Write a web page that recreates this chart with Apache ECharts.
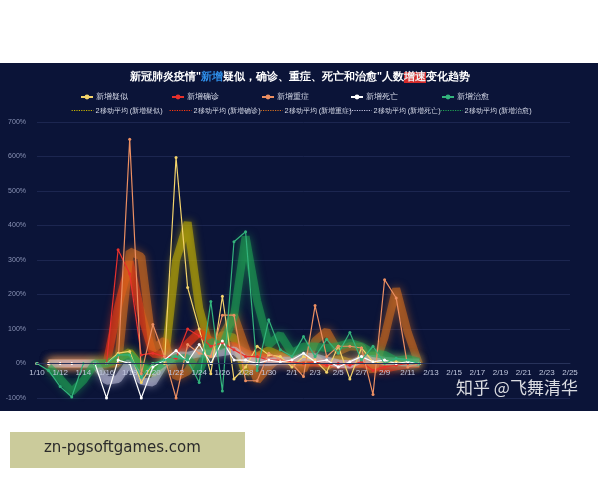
<!DOCTYPE html>
<html><head><meta charset="utf-8">
<script src="https://cdn.jsdelivr.net/npm/echarts@6/dist/echarts.min.js"></script>
<style>html,body{margin:0;padding:0;background:#fff}#c{width:600px;height:480px}</style>
</head><body><div id="c"></div>
<script>
const categories = ['1/10','1/11','1/12','1/13','1/14','1/15','1/16','1/17','1/18','1/19','1/20','1/21','1/22','1/23','1/24','1/25','1/26','1/27','1/28','1/29','1/30','1/31','2/1','2/2','2/3','2/4','2/5','2/6','2/7','2/8','2/9','2/10','2/11','2/12','2/13','2/14','2/15','2/16','2/17','2/18','2/19','2/20','2/21','2/22','2/23','2/24','2/25'];
const yTicks = [-100,0,100,200,300,400,500,600,700];
const names = ['新增疑似','新增确诊','新增重症','新增死亡','新增治愈'];
const maNames = ['2移动平均 (新增疑似)','2移动平均 (新增确诊)','2移动平均 (新增重症)','2移动平均 (新增死亡)','2移动平均 (新增治愈)'];
const suspected = [0,0,0,0,0,0,0,30,35,-55,0,0,597,220,100,-30,195,-45,-10,50,25,20,-10,20,10,-25,50,-45,45,5,0,5,0,0];
const confirmed = [0,0,0,0,0,0,0,330,260,25,30,20,15,100,80,50,60,40,20,20,10,10,5,0,5,-5,0,-5,5,-20,-10,-5,0,0];
const severe = [0,0,0,0,0,0,0,0,650,-30,113,20,-100,55,30,20,140,140,-50,-50,30,10,0,-38,168,20,50,50,45,-90,243,190,-10,0];
const deaths = [0,0,0,0,0,0,-100,10,0,-100,-10,10,38,5,55,0,65,10,10,0,10,5,10,30,5,10,-10,5,20,5,10,0,5,0];
const cured = [0,-20,-67,-97,0,0,0,25,25,-40,0,10,20,10,-55,180,-80,353,382,-20,127,40,20,78,20,70,30,90,10,50,0,15,10,0];
const maSuspected = [null,0,0,0,0,0,0,15,33,-10,-28,0,299,409,160,35,83,75,-28,20,38,23,5,5,15,-8,13,3,0,25,3,3,3,0];
const maConfirmed = [null,0,0,0,0,0,0,165,295,143,28,25,18,58,90,65,55,50,30,20,15,10,8,3,3,0,-3,-3,0,-8,-15,-8,-3,0];
const maSevere = [null,0,0,0,0,0,0,0,325,310,42,67,-40,-23,43,25,80,140,45,-50,-10,20,5,-19,65,94,35,50,48,-23,77,217,90,-5];
const maDeaths = [null,0,0,0,0,0,-50,-45,5,-50,-55,0,24,22,30,28,33,38,10,5,5,8,8,20,18,8,0,-3,13,13,8,5,3,3];
const maCured = [null,-10,-44,-82,-49,0,0,13,25,-8,-20,5,15,15,-23,63,50,137,368,181,54,84,30,49,49,45,50,60,50,30,25,8,13,5];

const raw = [suspected, confirmed, severe, deaths, cured];
const ma = [maSuspected, maConfirmed, maSevere, maDeaths, maCured];
const colors = ['#f3d36b','#e8302c','#ec8f62','#ffffff','#33b37c'];
const maColors = ['#c9b400','#ff3a10','#d8701e','#c4c4e0','#1fa553'];
const legendX = [75, 166, 256, 345, 436];
const legend2X = [66, 164, 255, 344, 435];

const series = [];
ma.forEach((d, i) => series.push({
  name: maNames[i], type: 'line', data: d, symbol: 'none', z: 1,
  lineStyle: {color: maColors[i], width: 8, opacity: 0.55, shadowBlur: 9, shadowColor: maColors[i]},
  itemStyle: {color: maColors[i]}
}));
raw.forEach((d, i) => series.push({
  name: names[i], type: 'line', data: d, symbol: 'circle', symbolSize: 3, z: 3,
  lineStyle: {color: colors[i], width: 1.2}, itemStyle: {color: colors[i]}
}));

const legends = [];
names.forEach((n, i) => legends.push({
  left: legendX[i], top: 88, itemWidth: 12, itemHeight: 6, itemGap: 4,
  data: [{name: n}], textStyle: {color: '#d8dcea', fontSize: 8, padding: [0,0,0,-2]}
}));
maNames.forEach((n, i) => legends.push({
  left: legend2X[i], top: 102, itemWidth: 22, itemHeight: 6,
  data: [{name: n, itemStyle: {opacity: 0}, lineStyle: {width: 1.2, type: 'dotted', opacity: 1, shadowBlur: 0}}],
  textStyle: {color: '#d8dcea', fontSize: 7.4, padding: [0,0,0,-3]}
}));

const chart = echarts.init(document.getElementById('c'));
chart.setOption({
  backgroundColor: '#ffffff',
  animation: false,
  title: {
    text: '新冠肺炎疫情"{b|新增}疑似，确诊、重症、死亡和治愈"人数{r|增速}变化趋势',
    left: 'center', top: 67,
    textStyle: {color: '#ffffff', fontSize: 10.5, fontWeight: 'bold',
      rich: {b: {color: '#2f8ee8', fontSize: 10.5, fontWeight: 'bold'},
             r: {color: '#f0f0f0', backgroundColor: '#d42a2a', fontSize: 10.5, fontWeight: 'bold'}}}
  },
  legend: legends,
  grid: {left: 37, right: 30, top: 122, bottom: 82},
  xAxis: {
    type: 'category', data: categories, boundaryGap: false, offset: -34.5, z: 4,
    axisLine: {onZero: false, lineStyle: {color: '#27325a'}},
    axisTick: {show: false},
    axisLabel: {interval: 1, color: '#c0c7de', fontSize: 8, margin: 5}
  },
  yAxis: {
    type: 'value', min: yTicks[0], max: yTicks[yTicks.length - 1], interval: 100,
    axisLine: {show: false}, axisTick: {show: false},
    axisLabel: {formatter: '{value}%', color: '#8a93b5', fontSize: 7, margin: 11},
    splitLine: {lineStyle: {color: '#1c2650', width: 1}}
  },
  graphic: [
    {type: 'rect', z: -10, silent: true, shape: {x: 0, y: 63, width: 598, height: 348}, style: {fill: '#0b1438'}},
    {type: 'text', z: 100, left: 456, top: 379, style: {text: '知乎 @飞舞清华', fill: '#ffffff', opacity: 0.85, font: '17px "Noto Sans CJK SC"'}},
    {type: 'rect', z: 10, shape: {x: 10, y: 432, width: 235, height: 36}, style: {fill: '#cbcb9b'}},
    {type: 'text', z: 11, left: 44, top: 441, style: {text: 'zn-pgsoftgames.com', fill: '#2b2b2b', font: '15px "DejaVu Sans"'}}
  ],
  series: series
});
</script></body></html>
